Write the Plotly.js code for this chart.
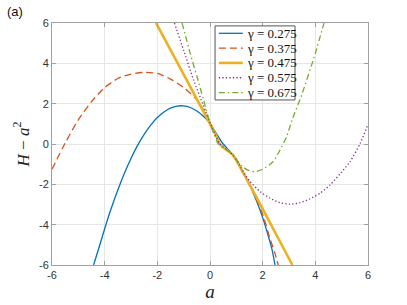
<!DOCTYPE html>
<html>
<head>
<meta charset="utf-8">
<script src="https://cdn.plot.ly/plotly-3.0.1.min.js"></script>
<style>html,body{margin:0;padding:0;background:#fff;}#chart{width:407px;height:305px;}</style>
</head>
<body>
<div id="chart"></div>
<script>
// Series names
var seriesNames = ["γ = 0.275", "γ = 0.375", "γ = 0.475", "γ = 0.575", "γ = 0.675"];

// γ = 0.275 (blue)
var a275 = [-4.42, -4.2, -4.0, -3.75, -3.5, -3.25, -3.0, -2.75, -2.5, -2.25, -2.0, -1.75, -1.5, -1.25, -1.0, -0.75, -0.5, -0.25, 0, 0.25, 0.5, 0.75, 1.0, 1.2, 1.45, 1.65, 1.85, 2.0, 2.2, 2.35, 2.47];
var h275 = [-6, -5.07, -4.2, -3.19, -2.28, -1.45, -0.72, -0.07, 0.48, 0.94, 1.31, 1.59, 1.78, 1.88, 1.89, 1.81, 1.64, 1.38, 1.04, 0.5, 0.0, -0.35, -0.75, -1.25, -1.9, -2.45, -3.1, -3.65, -4.5, -5.2, -6];

// γ = 0.375 (orange, dashed)
var a375 = [-6, -5.5, -5, -4.5, -4, -3.5, -3, -2.5, -2, -1.5, -1, -0.5, -0.25, 0, 0.2, 0.35, 0.5, 0.7, 0.9, 1.2, 1.45, 1.65, 1.85, 2.03, 2.28, 2.45, 2.59];
var h375 = [-1.25, 0.05, 1.2, 2.1, 2.8, 3.25, 3.47, 3.55, 3.5, 3.22, 2.8, 2.2, 1.7, 1.06, 0.5, 0.08, -0.15, -0.35, -0.62, -1.28, -1.88, -2.42, -3.0, -3.6, -4.7, -5.35, -6];

// γ = 0.475 (yellow, thick)
var a475 = [-2.05, -1.0, -0.5, 0, 0.2, 0.35, 0.5, 0.7, 0.85, 1.0, 1.2, 1.5, 2.0, 2.5, 3.13];
var h475 = [6, 3.45, 2.22, 1.0, 0.5, 0.05, -0.18, -0.36, -0.5, -0.82, -1.28, -2.0, -3.22, -4.45, -6];

// γ = 0.575 (purple, dotted)
var a575 = [-1.35, -1.0, -0.63, -0.25, 0, 0.2, 0.35, 0.5, 0.7, 0.9, 1.1, 1.3, 1.52, 1.9, 2.28, 2.66, 3.04, 3.42, 3.8, 4.18, 4.56, 4.94, 5.32, 5.7, 6.0];
var h575 = [6, 4.65, 3.2, 1.9, 1.05, 0.45, 0.05, -0.15, -0.35, -0.6, -1.0, -1.45, -1.86, -2.36, -2.69, -2.91, -2.98, -2.91, -2.72, -2.44, -2.03, -1.48, -0.87, 0.02, 0.98];

// γ = 0.675 (green, dash-dot)
var a675 = [-1.06, -0.76, -0.5, -0.25, 0, 0.15, 0.3, 0.45, 0.6, 0.8, 1.0, 1.2, 1.4, 1.7, 2.0, 2.4, 2.66, 2.91, 3.12, 3.5, 4.0, 4.33];
var h675 = [6, 4.53, 3.37, 2.2, 1.05, 0.5, 0.02, -0.15, -0.27, -0.45, -0.76, -1.08, -1.27, -1.37, -1.25, -0.87, -0.29, 0.37, 1.2, 2.5, 4.5, 6];

// Tick labels
var tickVals = [-6, -4, -2, 0, 2, 4, 6];
var tickText = ["-6", "-4", "-2", "0", "2", "4", "6"];

// Styles
var colors = ["#0072BD", "#D95319", "#EDB120", "#7E2F8E", "#77AC30"];
var widths = [1.3, 1.3, 2.6, 1.3, 1.3];
var dashes = ["solid", "7px,4px", "solid", "1.3px,2.2px", "6px,3px,1.5px,3px"];
var xs = [a275, a375, a475, a575, a675];
var ys = [h275, h375, h475, h575, h675];

var traces = [];
for (var i = 0; i < xs.length; i++) {
  traces.push({
    x: xs[i], y: ys[i], name: seriesNames[i], mode: "lines", showlegend: false,
    line: {color: colors[i], width: widths[i], dash: dashes[i], shape: "spline", smoothing: (i === 2 ? 0.4 : 0.6)}
  });
}

var axisCommon = {
  range: [-6, 6],
  tickvals: tickVals,
  ticktext: tickText,
  showgrid: true,
  gridcolor: "#e6e6e6",
  gridwidth: 1,
  zeroline: false,
  showline: true,
  linecolor: "#a0a0a0",
  linewidth: 1,
  mirror: "ticks",
  ticks: "inside",
  ticklen: 4,
  tickcolor: "#a0a0a0",
  tickfont: {family: "Liberation Sans, Arial, sans-serif", size: 11, color: "#333333"}
};

// Custom legend box (paper coordinates)
var legX0 = 0.516, legX1 = 0.769, legYTop = 0.988, legYBot = 0.682;
var legStep = (legYTop - legYBot) / seriesNames.length;
var shapes = [{type: "rect", xref: "paper", yref: "paper", x0: legX0, x1: legX1, y0: legYBot, y1: legYTop,
  fillcolor: "#ffffff", line: {color: "#555555", width: 1}, layer: "above"}];
var annotations = [
  {text: "(a)", xref: "paper", yref: "paper", x: -0.148, y: 1.085, xanchor: "left", yanchor: "top", showarrow: false,
   font: {family: "Liberation Sans, Arial, sans-serif", size: 13, color: "#111"}}
];
for (var j = 0; j < seriesNames.length; j++) {
  var yc = legYTop - legStep * (j + 0.5);
  shapes.push({type: "line", xref: "paper", yref: "paper", x0: 0.528, x1: 0.604, y0: yc, y1: yc, layer: "above",
    line: {color: colors[j], width: widths[j], dash: dashes[j]}});
  annotations.push({text: seriesNames[j], xref: "paper", yref: "paper", x: 0.61, y: yc, xanchor: "left", yanchor: "middle",
    showarrow: false, font: {family: "Liberation Serif, Times New Roman, serif", size: 13, color: "#111"}});
}

var layout = {
  width: 407,
  height: 305,
  margin: {l: 52, r: 39, t: 23, b: 40},
  paper_bgcolor: "#ffffff",
  plot_bgcolor: "#ffffff",
  showlegend: false,
  xaxis: Object.assign({}, axisCommon, {
    title: {text: "<i>a</i>", font: {family: "Liberation Serif, Times New Roman, serif", size: 19, color: "#222"}, standoff: 4}
  }),
  yaxis: Object.assign({}, axisCommon, {
    title: {text: "<i>H</i> − <i>a</i><sup>2</sup>", font: {family: "Liberation Serif, Times New Roman, serif", size: 17, color: "#222"}, standoff: 5}
  }),
  shapes: shapes,
  annotations: annotations
};

Plotly.newPlot("chart", traces, layout, {displayModeBar: false, staticPlot: true});
</script>
</body>
</html>
